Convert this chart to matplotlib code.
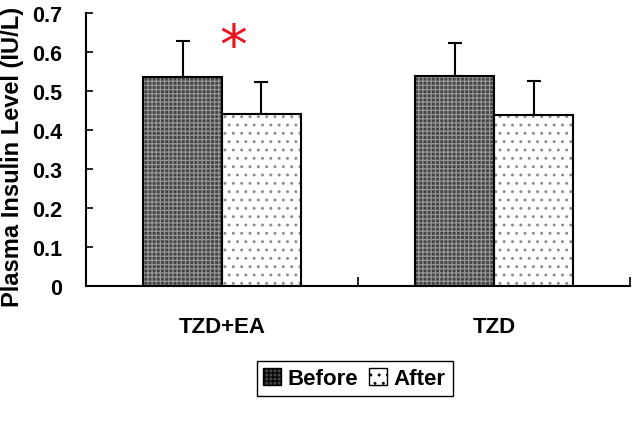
import matplotlib
matplotlib.use("Agg")
import matplotlib.pyplot as plt
from matplotlib.patches import Patch
import numpy as np

categories = ["TZD+EA", "TZD"]
series_names = ["Before", "After"]
before = [0.535, 0.538]
after = [0.441, 0.439]
before_err = [0.094, 0.085]
after_err = [0.083, 0.087]
yticks = [0, 0.1, 0.2, 0.3, 0.4, 0.5, 0.6, 0.7]
ytick_labels = ["0", "0.1", "0.2", "0.3", "0.4", "0.5", "0.6", "0.7"]
ylabel = "Plasma Insulin Level (IU/L)"

plt.rcParams["font.family"] = ["Liberation Sans", "DejaVu Sans"]
plt.rcParams["font.weight"] = "bold"
plt.rcParams["hatch.linewidth"] = 0.9

fig = plt.figure(figsize=(6.32, 4.27), dpi=100)
ax = fig.add_axes([0.136, 0.328, 0.861, 0.639])

x = np.arange(len(categories))
w = 0.29

# Before bars: dark checkered
ax.bar(x - w / 2, before, w, color="#444444", edgecolor="#959595", hatch="++++", linewidth=0, zorder=2)
ax.bar(x - w / 2, before, w, fill=False, edgecolor="black", linewidth=1.5, zorder=3)
# After bars: white with dots
ax.bar(x + w / 2, after, w, color="white", edgecolor="#8a8a8a", hatch="..", linewidth=0, zorder=2)
ax.bar(x + w / 2, after, w, fill=False, edgecolor="black", linewidth=1.5, zorder=3)

ax.errorbar(x - w / 2, before, yerr=[np.zeros(len(before)), before_err], fmt="none",
            ecolor="black", elinewidth=1.5, capsize=5, capthick=1.5, zorder=1)
ax.errorbar(x + w / 2, after, yerr=[np.zeros(len(after)), after_err], fmt="none",
            ecolor="black", elinewidth=1.5, capsize=5, capthick=1.5, zorder=1)

# significance marker
ax.text(x[0] + 0.04, 0.572, "*", color="#e8141e", fontsize=40, fontweight="normal",
        family="DejaVu Sans", ha="center", va="baseline")

ax.set_xlim(-0.5, 1.5)
ax.set_ylim(0, 0.7)
ax.set_yticks(yticks)
ax.set_yticklabels(ytick_labels, fontsize=15.5, fontweight="bold")
ax.tick_params(axis="y", direction="in", length=5, width=1.2, pad=17)

ax.set_xticks([-0.5, 0.5, 1.5])
ax.set_xticklabels(["", "", ""])
ax.tick_params(axis="x", which="major", direction="in", length=6.5, width=1.2)
ax.set_xticks(x, minor=True)
ax.set_xticklabels(categories, minor=True, fontsize=16, fontweight="bold")
ax.tick_params(axis="x", which="minor", length=0, pad=22)

for s in ["top", "right"]:
    ax.spines[s].set_visible(False)
for s in ["left", "bottom"]:
    ax.spines[s].set_linewidth(1.5)

fig.text(0.019, 0.632, ylabel, rotation=90, ha="center", va="center",
         fontsize=17, fontweight="bold")

handles = [Patch(facecolor="#444444", edgecolor="black", hatch="++++", linewidth=1),
           Patch(facecolor="white", edgecolor="black", hatch="..", linewidth=1)]
leg = fig.legend(handles, series_names, loc="center", bbox_to_anchor=(0.561, 0.111), ncol=2,
                 frameon=True, fancybox=False, edgecolor="black", framealpha=1,
                 prop={"size": 16, "weight": "bold"}, handlelength=0.8, handleheight=0.8,
                 handletextpad=0.3, columnspacing=0.5, borderpad=0.3, borderaxespad=0)
leg.get_frame().set_linewidth(1.0)

fig.savefig("out.png", dpi=100)
